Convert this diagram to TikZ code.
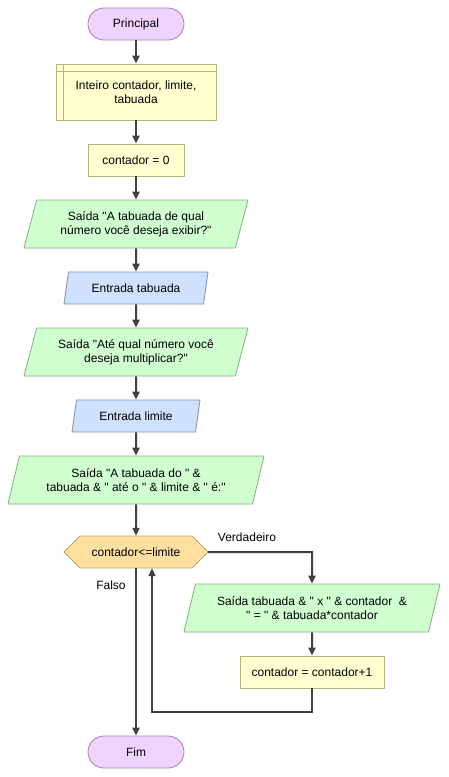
\documentclass[tikz,border=0pt]{standalone}
\usepackage{fontspec}
\setmainfont{Liberation Sans}[Ligatures=TeXOff]
\usetikzlibrary{shapes.geometric,arrows.meta}
\definecolor{termfill}{HTML}{EFD3FF}
\definecolor{termdraw}{HTML}{A080B0}
\definecolor{boxfill}{HTML}{FFFFD0}
\definecolor{boxdraw}{HTML}{B4B47C}
\definecolor{outfill}{HTML}{D0FFD0}
\definecolor{outdraw}{HTML}{80B080}
\definecolor{infill}{HTML}{D0E0FF}
\definecolor{indraw}{HTML}{8090B0}
\definecolor{decfill}{HTML}{FFE0A0}
\definecolor{decdraw}{HTML}{C0A060}
\definecolor{arrowcol}{HTML}{404040}
\begin{document}
\begin{tikzpicture}[x=1pt,y=-1pt,
  every node/.style={font=\fontsize{12}{14}\selectfont, align=center, inner sep=0pt, text=black},
  term/.style={draw=termdraw, fill=termfill, rounded corners=16pt, minimum width=96pt, minimum height=32pt, line width=0.8pt},
  procbox/.style={draw=boxdraw, fill=boxfill, minimum height=32pt, line width=0.8pt},
  para/.style={trapezium, trapezium left angle=63.435, trapezium right angle=116.565, trapezium stretches body, line width=0.8pt},
  outbox/.style={para, draw=outdraw, fill=outfill},
  inbox/.style={para, draw=indraw, fill=infill},
  decshape/.style={draw=decdraw, fill=decfill, line width=0.8pt},
  conn/.style={draw=arrowcol, line width=2pt, -{Triangle[length=8pt,width=7pt]}},
  lbl/.style={font=\fontsize{12}{14}\selectfont}
]
\useasboundingbox (0,0) rectangle (449,777);

\node[term] (start) at (136,24) {Principal};
\node[procbox, minimum width=160pt, minimum height=56pt] (decl) at (136,92) {Inteiro contador, limite,\\tabuada};
\draw[boxdraw, line width=0.8pt] ([xshift=8pt]decl.north west) -- ([xshift=8pt]decl.south west);
\draw[boxdraw, line width=0.8pt] ([yshift=-8pt]decl.north west) -- ([yshift=-8pt]decl.north east);
\node[procbox, minimum width=96pt] (init) at (136,160) {contador = 0};
\node[outbox, minimum width=224pt, minimum height=48pt] (out1) at (136,224) {Saída "A tabuada de qual\\número você deseja exibir?"};
\node[inbox, minimum width=144pt, minimum height=32pt] (in1) at (136,288) {Entrada tabuada};
\node[outbox, minimum width=224pt, minimum height=48pt] (out2) at (136,352) {Saída "Até qual número você\\deseja multiplicar?"};
\node[inbox, minimum width=128pt, minimum height=32pt] (in2) at (136,416) {Entrada limite};
\node[outbox, minimum width=256pt, minimum height=48pt] (out3) at (136,480) {Saída "A tabuada do " \&\\tabuada \& " até o " \& limite \& " é:"};

\path[decshape] (64,552) -- (80,536) -- (192,536) -- (208,552) -- (192,568) -- (80,568) -- cycle;
\node[minimum width=144pt, minimum height=32pt] (dec) at (136,552) {contador<=limite};

\node[outbox, minimum width=256pt, minimum height=48pt] (out4) at (312,608) {Saída tabuada \& " x " \& contador~~\&\\" = " \& tabuada*contador};
\node[procbox, minimum width=144pt] (inc) at (312,672) {contador = contador+1};
\node[term] (fim) at (136,752) {Fim};

\node[lbl] (vlab) at (247,537) {Verdadeiro};
\node[lbl] (flab) at (111,585) {Falso};

\coordinate (c1) at (312,712);
\coordinate (c2) at (152,712);
\coordinate (c3) at (312,552);

\draw[conn] (start) -- (decl);
\draw[conn] (decl) -- (init);
\draw[conn] (init) -- (out1);
\draw[conn] (out1) -- (in1);
\draw[conn] (in1) -- (out2);
\draw[conn] (out2) -- (in2);
\draw[conn] (in2) -- (out3);
\draw[conn] (out3) -- (dec);
\draw[conn] (dec.east) -- (c3) -- (out4.north);
\draw[conn] (out4) -- (inc);
\draw[conn] (inc.south) -- (c1) -- (c2) -- ([xshift=16pt]dec.south);
\draw[conn] (dec) -- (fim);
\end{tikzpicture}
\end{document}
